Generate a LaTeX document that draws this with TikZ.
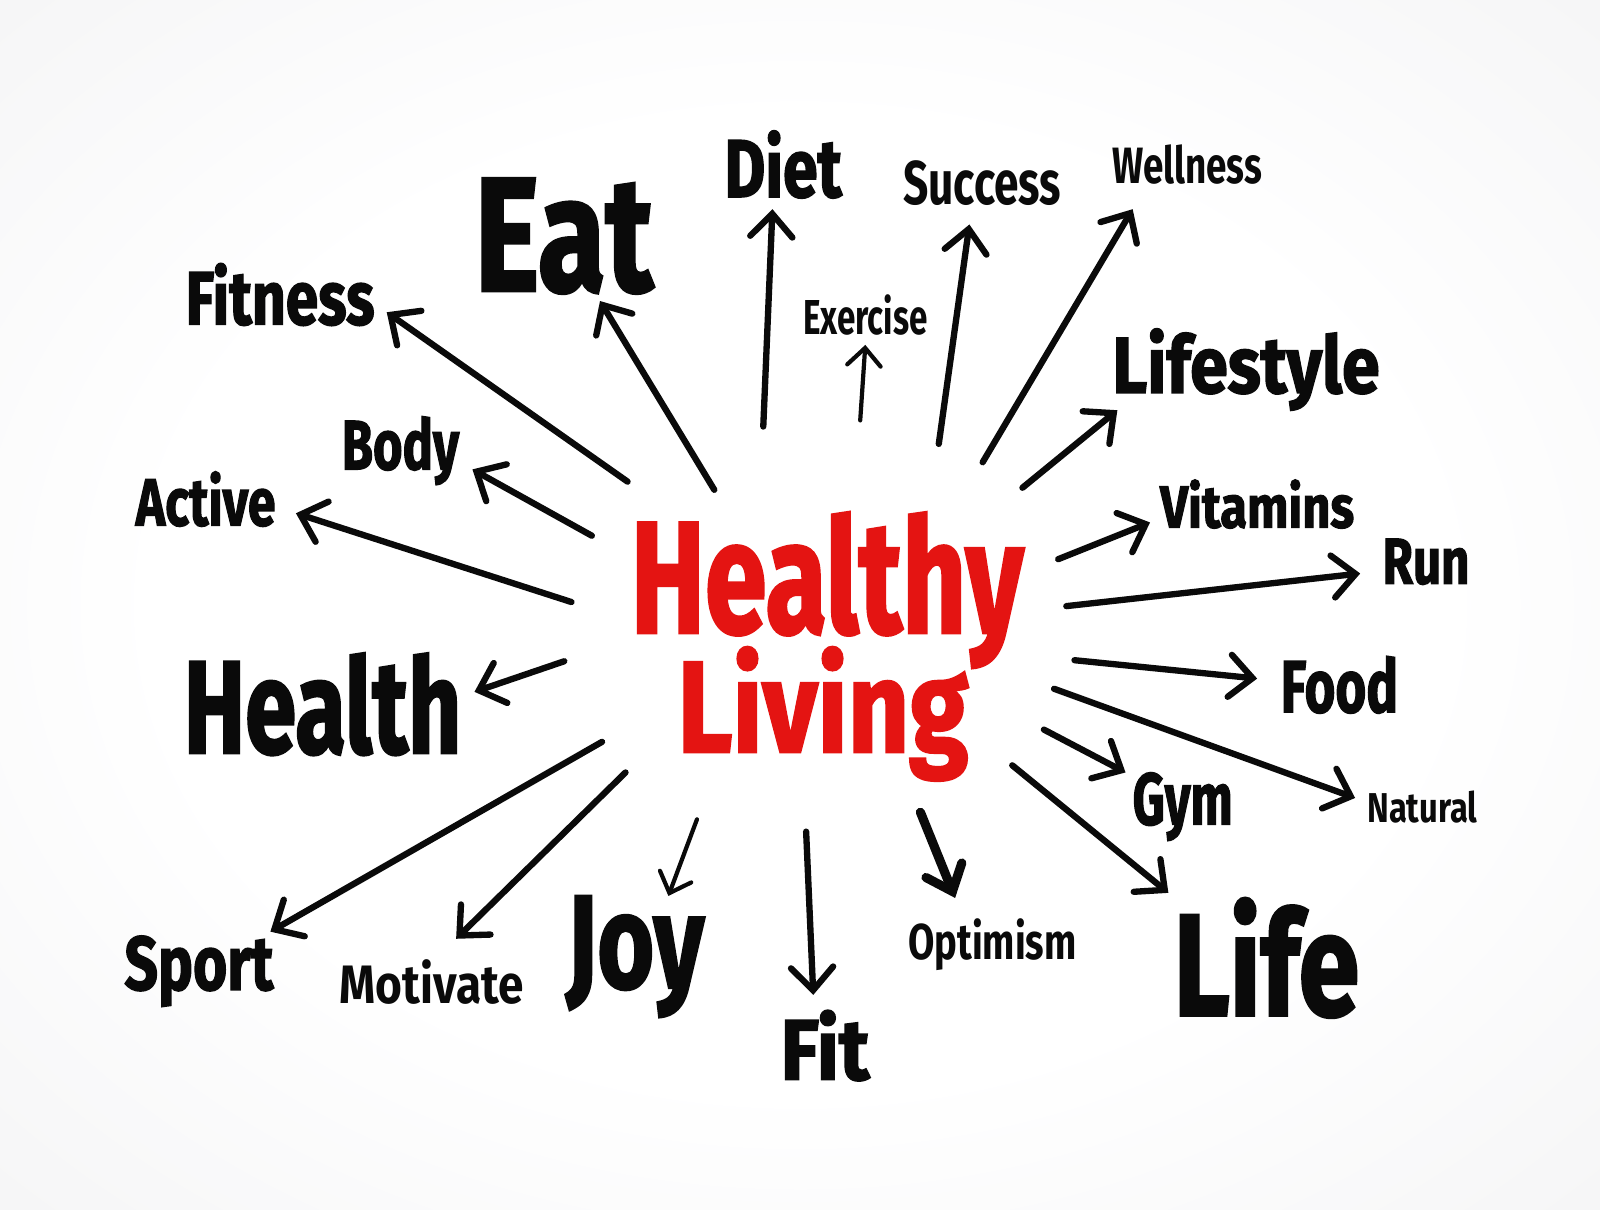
\documentclass[tikz,border=0pt]{standalone}
\usepackage{fontspec}
\setmainfont{Fira Sans}
\newfontfamily\handfont{Fira Sans}[BoldFeatures={FakeBold=2}]
\usepackage{graphicx}
\usetikzlibrary{arrows.meta}
\definecolor{ink}{RGB}{10,10,10}
\definecolor{hred}{RGB}{228,20,18}
\definecolor{bgmid}{RGB}{237,237,239}
\definecolor{bgedge}{RGB}{233,233,236}
\newlength\pxu
\setlength\pxu{0.010204cm}
\newcommand{\hlword}[3]{\resizebox{#1\pxu}{#2\pxu}{\handfont\bfseries #3}}
\newcommand{\hlwordm}[3]{\resizebox{#1\pxu}{#2\pxu}{\bfseries #3}}
\pgfdeclareradialshading{bgshade}{\pgfpoint{0bp}{0bp}}{color(0bp)=(white); color(20bp)=(white); color(50bp)=(bgmid); color(72bp)=(bgedge)}
\begin{document}
\begin{tikzpicture}[x=0.010204cm,y=-0.010204cm,
  word/.style={anchor=base west, inner sep=0pt, outer sep=0pt, text=ink},
  redword/.style={word, text=hred},
  arr/.style={draw=ink, line width=1.8pt, line cap=round, line join=round,
    -{Straight Barb[length=6.5pt,width=12pt,line cap=round]}},
  thinarr/.style={arr, line width=1.2pt, -{Straight Barb[length=5pt,width=9.5pt,line cap=round]}},
  heavyarr/.style={arr, line width=2.6pt, -{Straight Barb[length=6.5pt,width=11pt,line cap=round]}}]
\useasboundingbox (0,0) rectangle (1568,1185);
\shade[shading=bgshade] (0,0) rectangle (1568,1185);

% centre
\node[redword] (healthy) at (618,620) {\hlword{385}{118}{Healthy}};
\node[redword] (living)  at (664,737) {\hlword{285}{103}{Living}};

% words
\node[word] (eat)      at (465,285)  {\hlword{175}{110}{Eat}};
\node[word] (diet)     at (710,193)  {\hlword{115}{65}{Diet}};
\node[word] (success)  at (885,200)  {\hlwordm{155}{43}{Success}};
\node[word] (wellness) at (1090,180) {\hlwordm{147}{38}{Wellness}};
\node[word] (fitness)  at (182,318)  {\hlword{185}{60}{Fitness}};
\node[word] (exercise) at (787,328)  {\hlwordm{122}{39}{Exercise}};
\node[word] (lifestyle) at (1090,385) {\hlword{262}{63}{Lifestyle}};
\node[word] (body)     at (335,460)  {\hlword{115}{52}{Body}};
\node[word] (active)   at (133,515)  {\hlword{137}{53}{Active}};
\node[word] (vitamins) at (1137,517) {\hlword{190}{47}{Vitamins}};
\node[word] (run)      at (1355,572) {\hlword{85}{44}{Run}};
\node[word] (health)   at (180,738)  {\hlword{272}{98}{Health}};
\node[word] (food)     at (1255,698) {\hlword{115}{55}{Food}};
\node[word] (natural)  at (1340,806) {\hlwordm{108}{31}{Natural}};
\node[word] (gym)      at (1110,808) {\hlword{98}{51}{Gym}};
\node[word] (life)     at (1150,995) {\hlword{182}{115}{Life}};
\node[word] (sport)    at (122,970)  {\hlword{146}{53}{Sport}};
\node[word] (motivate) at (333,983)  {\hlwordm{180}{43}{Motivate}};
\node[word] (joy)      at (555,968)  {\hlword{135}{90}{Joy}};
\node[word] (fit)      at (765,1058) {\hlword{87}{68}{Fit}};
\node[word] (optimism) at (890,940)  {\hlwordm{165}{40}{Optimism}};

% arrow ends
\coordinate (fitness-t) at (615,472);  \coordinate (fitness-h) at (379,306);
\coordinate (eat-t) at (700,480);      \coordinate (eat-h) at (588,295);
\coordinate (diet-t) at (748,418);     \coordinate (diet-h) at (757,205);
\coordinate (exercise-t) at (843,412); \coordinate (exercise-h) at (848,338);
\coordinate (success-t) at (920,435);  \coordinate (success-h) at (950,220);
\coordinate (wellness-t) at (963,453); \coordinate (wellness-h) at (1110,205);
\coordinate (lifestyle-t) at (1002,478); \coordinate (lifestyle-h) at (1095,402);
\coordinate (body-t) at (580,525);     \coordinate (body-h) at (463,460);
\coordinate (active-t) at (560,590);   \coordinate (active-h) at (290,503);
\coordinate (vitamins-t) at (1037,548); \coordinate (vitamins-h) at (1127,512);
\coordinate (run-t) at (1045,594);     \coordinate (run-h) at (1333,562);
\coordinate (health-t) at (553,648);   \coordinate (health-h) at (465,678);
\coordinate (food-t) at (1053,647);    \coordinate (food-h) at (1232,665);
\coordinate (natural-t) at (1033,675); \coordinate (natural-h) at (1328,782);
\coordinate (gym-t) at (1023,715);     \coordinate (gym-h) at (1103,757);
\coordinate (life-t) at (992,750);     \coordinate (life-h) at (1145,875);
\coordinate (sport-t) at (590,727);    \coordinate (sport-h) at (265,913);
\coordinate (motivate-t) at (613,757); \coordinate (motivate-h) at (447,920);
\coordinate (joy-t) at (683,803);      \coordinate (joy-h) at (655,878);
\coordinate (fit-t) at (790,815);      \coordinate (fit-h) at (797,975);
\coordinate (optimism-t) at (902,796); \coordinate (optimism-h) at (936,880);

\draw[arr] (fitness-t) -- (fitness-h);
\draw[arr] (eat-t) -- (eat-h);
\draw[arr] (diet-t) -- (diet-h);
\draw[thinarr] (exercise-t) -- (exercise-h);
\draw[arr] (success-t) -- (success-h);
\draw[arr] (wellness-t) -- (wellness-h);
\draw[arr] (lifestyle-t) -- (lifestyle-h);
\draw[arr] (body-t) -- (body-h);
\draw[arr] (active-t) -- (active-h);
\draw[arr] (vitamins-t) -- (vitamins-h);
\draw[arr] (run-t) -- (run-h);
\draw[arr] (health-t) -- (health-h);
\draw[arr] (food-t) -- (food-h);
\draw[arr] (natural-t) -- (natural-h);
\draw[arr] (gym-t) -- (gym-h);
\draw[arr] (life-t) -- (life-h);
\draw[arr] (sport-t) -- (sport-h);
\draw[arr] (motivate-t) -- (motivate-h);
\draw[thinarr] (joy-t) -- (joy-h);
\draw[arr] (fit-t) -- (fit-h);
\draw[heavyarr] (optimism-t) -- (optimism-h);
\end{tikzpicture}
\end{document}
